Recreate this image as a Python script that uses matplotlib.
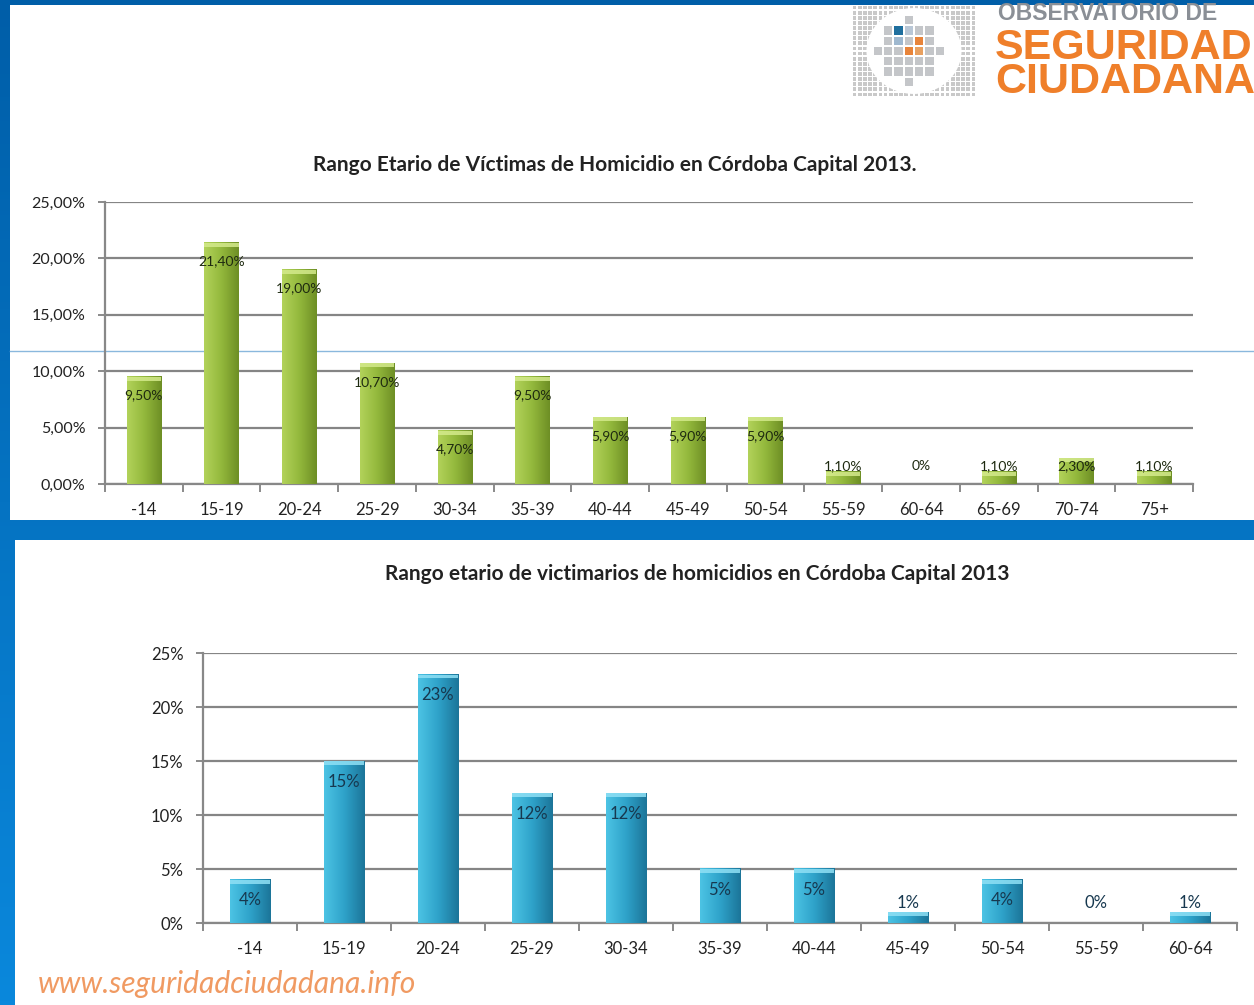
import numpy as np
import matplotlib
matplotlib.use("Agg")
import matplotlib.pyplot as plt
from matplotlib.patches import Rectangle, Ellipse
from matplotlib.colors import LinearSegmentedColormap

plt.rcParams["font.family"] = ["Lato", "DejaVu Sans"]

# victim data (top chart)
victim_groups = ["-14", "15-19", "20-24", "25-29", "30-34", "35-39", "40-44",
                 "45-49", "50-54", "55-59", "60-64", "65-69", "70-74", "75+"]
victim_pct = [9.5, 21.4, 19.0, 10.7, 4.7, 9.5, 5.9, 5.9, 5.9, 1.1, 0.0, 1.1, 2.3, 1.1]
victim_labels = ["9,50%", "21,40%", "19,00%", "10,70%", "4,70%", "9,50%", "5,90%",
                 "5,90%", "5,90%", "1,10%", "0%", "1,10%", "2,30%", "1,10%"]
victim_yticks = ["0,00%", "5,00%", "10,00%", "15,00%", "20,00%", "25,00%"]

# perpetrator data (bottom chart)
perp_groups = ["-14", "15-19", "20-24", "25-29", "30-34", "35-39", "40-44",
               "45-49", "50-54", "55-59", "60-64"]
perp_pct = [4, 15, 23, 12, 12, 5, 5, 1, 4, 0, 1]
perp_yticks = ["0%", "5%", "10%", "15%", "20%", "25%"]

W, H = 1254, 1005
fig = plt.figure(figsize=(W / 100, H / 100), dpi=100)

# blue background with vertical gradient
bg = fig.add_axes([0, 0, 1, 1], zorder=-10)
bg_cmap = LinearSegmentedColormap.from_list("bg", ["#005ea8", "#0a88dc"])
bg.imshow(np.linspace(0, 1, 256).reshape(-1, 1), cmap=bg_cmap, aspect="auto",
          extent=[0, 1, 0, 1], origin="upper")
bg.set_xlim(0, 1)
bg.set_ylim(0, 1)
bg.axis("off")


def px_rect(x0, y0, x1, y1):
    # pixel box (top-left origin) -> figure fraction rect
    return [x0 / W, 1 - y1 / H, (x1 - x0) / W, (y1 - y0) / H]


for box in [(10, 5, 1254, 520), (15, 540, 1254, 1005)]:
    r = px_rect(*box)
    bg.add_patch(Rectangle((r[0], r[1]), r[2], r[3], facecolor="white",
                           edgecolor="none", transform=fig.transFigure, zorder=1))
# stray thin line across the top panel
bg.plot([10 / W, 1], [1 - 351 / H] * 2, color="#8ab8dd", lw=1,
        transform=fig.transFigure, zorder=2)


def gradient_bars(ax, values, colors, cap_color, width):
    bars = ax.bar(range(len(values)), values, width=width, color="none",
                  edgecolor="none", zorder=3)
    cmap = LinearSegmentedColormap.from_list("g", colors)
    grad = np.linspace(0, 1, 64).reshape(1, -1)
    for b in bars:
        x, w, h = b.get_x(), b.get_width(), b.get_height()
        if h <= 0:
            continue
        ax.imshow(grad, cmap=cmap, aspect="auto", extent=[x, x + w, 0, h],
                  zorder=3, interpolation="bicubic")
        cap = min(0.35, h * 0.35)
        ax.add_patch(Rectangle((x, h - cap), w, cap, facecolor=cap_color,
                               edgecolor="none", zorder=4, alpha=0.85))
    return bars


def style_axes(ax, groups, yticklabels, tick_size, cat_size):
    ax.set_xlim(-0.5, len(groups) - 0.5)
    ax.set_ylim(0, 25)
    ax.set_yticks(range(0, 26, 5))
    ax.set_yticklabels(yticklabels, fontsize=tick_size, color="#222222")
    ax.set_xticks(np.arange(len(groups) + 1) - 0.5)
    ax.set_xticklabels([])
    ax.set_xticks(range(len(groups)), minor=True)
    ax.set_xticklabels(groups, minor=True, fontsize=cat_size, color="#222222")
    ax.tick_params(axis="x", which="major", length=6, color="#777777", width=1.2)
    ax.tick_params(axis="x", which="minor", length=0, pad=13)
    ax.tick_params(axis="y", length=5, color="#777777", width=1.2, pad=9)
    ax.grid(axis="y", color="#858585", lw=1.6, zorder=1)
    for s in ["top", "right"]:
        ax.spines[s].set_visible(False)
    for s in ["left", "bottom"]:
        ax.spines[s].set_color("#888888")
        ax.spines[s].set_linewidth(1.6)
    ax.set_facecolor("none")
    ax.set_axisbelow(True)


# top chart
ax1 = fig.add_axes(px_rect(105, 202, 1193, 484))
gradient_bars(ax1, victim_pct, ["#b2d25a", "#93b83c", "#6e8f25"], "#d4ea8c", 0.44)
style_axes(ax1, victim_groups, victim_yticks, 11.5, 12)
for i, (v, lab) in enumerate(zip(victim_pct, victim_labels)):
    ax1.text(i, max(v - 1.65, 1.6), lab, ha="center", va="center",
             fontsize=10, color="#1e2a10", zorder=5)
fig.text(615 / W, 1 - 165 / H,
         "Rango Etario de Víctimas de Homicidio en Córdoba Capital 2013.",
         ha="center", va="center", fontsize=15, fontweight="bold", color="#222222")

# bottom chart
ax2 = fig.add_axes(px_rect(203, 653, 1237, 923))
gradient_bars(ax2, perp_pct, ["#4cc3e4", "#2ea2c9", "#1c7599"], "#8fe0f5", 0.43)
style_axes(ax2, perp_groups, perp_yticks, 12, 12)
for i, v in enumerate(perp_pct):
    ax2.text(i, max(v - 1.9, 1.85), f"{v}%", ha="center", va="center",
             fontsize=12, color="#17384f", zorder=5)
fig.text(697 / W, 1 - 574 / H,
         "Rango etario de victimarios de homicidios en Córdoba Capital 2013",
         ha="center", va="center", fontsize=15, fontweight="bold", color="#222222")

# website footer
fig.text(38 / W, 1 - 984 / H, "www.seguridadciudadana.info", ha="left",
         va="center", fontsize=21.6, style="italic", color="#f09a62")

# logo
logo = fig.add_axes(px_rect(852, 5, 976, 97))
logo.set_xlim(0, 12)
logo.set_ylim(0, 9)
logo.axis("off")
for gx in np.arange(0.25, 12, 0.5):
    for gy in np.arange(0.25, 9, 0.5):
        logo.add_patch(Rectangle((gx - 0.18, gy - 0.18), 0.36, 0.36,
                                 facecolor="#c9c9c9", edgecolor="none"))
logo.add_patch(Ellipse((6, 4.5), 9.2, 8.4, facecolor="white", edgecolor="none"))
special = {(4, 6): "#1f6f9e", (5, 6): "#b9c7d6", (6, 5): "#e8843a",
           (5, 4): "#e8843a", (6, 4): "#e8a060", (4, 5): "#9fb8cf"}
for cx in range(2, 9):
    for cy in range(1, 8):
        if (cx - 5) ** 2 / 10 + (cy - 4) ** 2 / 9 > 1:
            continue
        col = special.get((cx, cy), "#c4c6c9")
        logo.add_patch(Rectangle((cx + 0.1, cy + 0.1), 0.8, 0.8,
                                 facecolor=col, edgecolor="none"))
fig.text(998 / W, 1 - 13 / H, "OBSERVATORIO DE", ha="left", va="center",
         fontsize=16.5, fontweight="bold", color="#8a8f96",
         family=["Liberation Sans", "DejaVu Sans"])
fig.text(995 / W, 1 - 65 / H, "SEGURIDAD\nCIUDADANA", ha="left", va="center",
         fontsize=31, fontweight="bold", color="#ef7f2a", linespacing=0.82,
         family=["Liberation Sans", "DejaVu Sans"])

fig.savefig("out.png", dpi=100)
